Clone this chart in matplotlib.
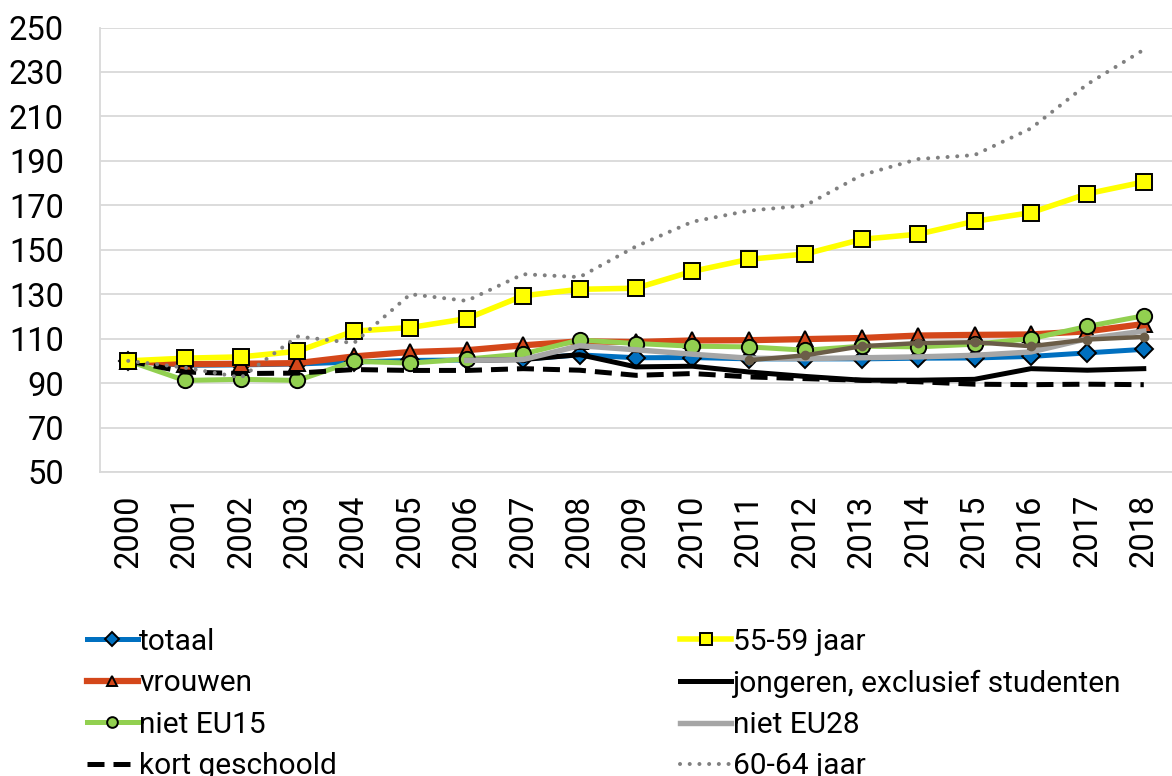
import numpy as np
import matplotlib
matplotlib.use('Agg')
import matplotlib.pyplot as plt

plt.rcParams['font.family'] = ['Roboto', 'DejaVu Sans']

jaren = [str(j) for j in range(2000, 2019)]

totaal = [100, 98.0, 98.2, 98.6, 99.5, 100.2, 100.4, 100.8, 102.7, 101.4, 101.5,
          100.9, 100.9, 100.9, 101.2, 101.3, 102.0, 103.6, 105.2]
vrouwen = [100, 98.5, 98.7, 99.0, 102.0, 104.0, 104.8, 107.0, 108.8, 108.5, 109.2,
           109.3, 109.8, 110.3, 111.4, 111.7, 111.9, 113.3, 116.6]
niet_eu15 = [100, 91.2, 91.7, 91.2, 99.8, 99.0, 100.8, 103.1, 109.4, 107.8, 106.6,
             106.3, 104.8, 106.6, 106.3, 107.5, 110.0, 115.5, 120.3]
kort_geschoold = [100, 95.0, 94.3, 94.5, 96.1, 95.7, 95.7, 96.5, 95.8, 93.5, 94.3,
                  92.8, 92.0, 91.3, 90.6, 89.5, 89.3, 89.5, 89.3]
jaar_55_59 = [100, 101.2, 101.8, 104.3, 113.4, 115.0, 119.0, 129.3, 132.2, 132.7, 140.3,
              145.7, 148.1, 154.7, 157.0, 162.8, 166.7, 175.2, 180.5]
jongeren = [None] * 6 + [100.2, 100.6, 102.8, 97.3, 97.6, 95.0, 93.0, 91.3, 91.3,
                         91.7, 96.5, 95.8, 96.5]
niet_eu28 = [None] * 6 + [100.2, 100.6, 106.8, 105.0, 103.0, 101.2, 101.0, 101.4, 101.8,
                          102.5, 104.0, 110.0, 113.4]
jaar_60_64 = [100, 97.0, 92.5, 111.0, 108.0, 130.0, 127.0, 139.0, 137.7, 151.5, 162.6,
              167.6, 169.9, 183.6, 190.8, 192.6, 204.6, 224.5, 240.0]
extra = [None] * 11 + [100.3, 102.5, 106.6, 108.0, 108.4, 106.6, 109.6, 110.8]


def arr(v):
    return np.array([np.nan if x is None else x for x in v], dtype=float)


x = np.arange(len(jaren))

fig = plt.figure(figsize=(11.72, 7.76), dpi=100)
ax = fig.add_axes([100 / 1172, 1 - 472 / 776, 1 - 100 / 1172, (472 - 27.5) / 776])

lw = 3.6
ax.plot(x, arr(totaal), color='#0070C0', lw=lw, marker='D', ms=9.5, mfc='#0070C0',
        mec='black', mew=1.4, label='totaal', zorder=3)
ax.plot(x, arr(vrouwen), color='#D4471A', lw=lw + 0.9, marker='^', ms=11, mfc='#D4471A',
        mec='black', mew=1.4, label='vrouwen', zorder=4)
ax.plot(x, arr(niet_eu15), color='#92D050', lw=lw, marker='o', ms=11, mfc='#92D050',
        mec='black', mew=1.4, label='niet EU15', zorder=5)
ax.plot(x, arr(kort_geschoold), color='black', lw=lw, dashes=(3.4, 1.8),
        label='kort geschoold', zorder=6)
ax.plot(x, arr(jaar_55_59), color='#FFFF00', lw=lw + 0.4, marker='s', ms=11.5, mfc='#FFFF00',
        mec='black', mew=1.4, label='55-59 jaar', zorder=7)
ax.plot(x, arr(jongeren), color='black', lw=lw, label='jongeren, exclusief studenten',
        zorder=8)
ax.plot(x, arr(niet_eu28), color='#A6A6A6', lw=lw + 0.3, label='niet EU28', zorder=9)
ax.plot(x, arr(jaar_60_64), color='#808080', lw=2.9, dashes=(0.01, 2.4),
        dash_capstyle='round', label='60-64 jaar', zorder=10)
ax.plot(x, arr(extra), color='#6B5D48', lw=3.2, marker='o', ms=6, mfc='#6B5D48',
        mec='#6B5D48', label='_nolegend_', zorder=11)

ax.set_xlim(-0.5, len(jaren) - 0.5)
ax.set_ylim(50, 250)
ax.set_yticks(np.arange(50, 251, 20))
ax.set_xticks(x)
ax.set_xticklabels(jaren, rotation=90)
ax.tick_params(axis='both', length=0, labelsize=23.5, colors='black')
ax.tick_params(axis='x', pad=16)
ax.tick_params(axis='y', pad=26)
ax.grid(axis='y', color='#D9D9D9', lw=1.3)
ax.set_axisbelow(True)
for s in ['top', 'right']:
    ax.spines[s].set_visible(False)
ax.spines['left'].set_color('#D9D9D9')
ax.spines['bottom'].set_color('#D9D9D9')
ax.spines['left'].set_linewidth(1.3)
ax.spines['bottom'].set_linewidth(1.3)

handles, labels = ax.get_legend_handles_labels()
fig.legend(handles, labels, ncol=2, loc='upper left',
           bbox_to_anchor=(60 / 1172, 1 - 601 / 776), frameon=False,
           fontsize=21.5, handlelength=1.7, handletextpad=0.05,
           columnspacing=11.5, labelspacing=0.45, markerscale=0.7)

fig.savefig('out.png', dpi=100)
